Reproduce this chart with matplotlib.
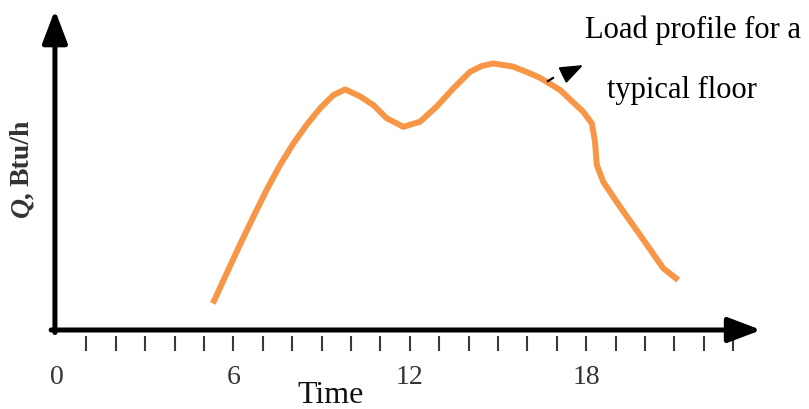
#Load profile sketch
import numpy as np
import matplotlib.pyplot as plt

# hour of day and relative load
hours = [5.30, 5.77, 6.22, 6.68, 7.13, 7.59, 8.04, 8.49, 8.95, 9.40,
         9.80, 10.31, 10.76, 11.21, 11.78, 12.35, 12.91, 13.48, 14.05,
         14.45, 14.84, 15.52, 16.09, 16.43, 17.11, 17.90, 18.19, 18.30,
         18.36, 18.58, 19.15, 19.83, 20.62, 21.13]
load = [8.3, 17.7, 26.6, 35.4, 43.8, 51.6, 58.3, 64.1, 69.3, 73.4,
        75.2, 73.0, 70.3, 66.2, 63.5, 65.1, 69.8, 75.5, 80.7,
        82.5, 83.3, 82.3, 80.2, 78.8, 75.0, 68.2, 64.6, 58.8,
        51.6, 46.3, 38.5, 29.7, 19.3, 15.6]
minor_hours = list(range(1, 24))
label_hours = [0, 6, 12, 18]
label_text = ["0", "6", "12", "18"]


def main():
    fig = plt.figure(figsize=(8.09, 4.09), dpi=100)
    ax = fig.add_axes([0, 0, 1, 1])
    ax.set_xlim(-57 / 29.4, (809 - 57) / 29.4)
    ax.set_ylim(-79 / 3.2, 330 / 3.2)
    ax.axis("off")

    serif = ["Liberation Serif", "DejaVu Serif"]

    # axes with arrow heads
    arrow = dict(arrowstyle="-|>,head_length=1.0,head_width=0.38", lw=3.6,
                 color="black", mutation_scale=20, shrinkA=0, shrinkB=0)
    ax.annotate("", xy=(-0.07, 100.0), xytext=(-0.07, -0.8), arrowprops=arrow)
    ax.annotate("", xy=(23.95, 0.0), xytext=(-0.2, 0.0), arrowprops=arrow)

    # small ticks below the time axis
    ax.vlines(minor_hours, -6.6, -1.9, color="#3a3a3a", lw=1.5)
    for h, t in zip(label_hours, label_text):
        ax.text(h, -15, t, ha="center", va="center", fontsize=20,
                family=serif, color="#333333")
    ax.text(9.32, -22.8, "Time", ha="center", va="baseline", fontsize=23,
            family=serif, color="#111111")

    # y label: Q bold italic, the rest bold
    ax.text(-1.18, (330 - 217) / 3.2, "Q,", rotation=90, rotation_mode="anchor",
            ha="left", va="center", fontsize=20, family=serif,
            fontweight="bold", fontstyle="italic", color="#333333")
    ax.text(-1.18, (330 - 186) / 3.2, "Btu/h", rotation=90, rotation_mode="anchor",
            ha="left", va="center", fontsize=20, family=serif,
            fontweight="bold", color="#333333")

    # the load curve
    ax.plot(hours, load, color="#F79646", lw=4.3, solid_joinstyle="round",
            solid_capstyle="butt")

    # annotation arrow: one short dash and a filled head
    ax.plot([16.70, 16.87], [77.8, 78.75], color="black", lw=1.6)
    ax.annotate("", xy=(17.90, 82.8), xytext=(17.21, 79.7),
                arrowprops=dict(arrowstyle="-|>,head_length=1.0,head_width=0.38",
                                lw=1.5, color="black", mutation_scale=14,
                                shrinkA=0, shrinkB=0))
    ax.text(17.96, 93.75, "Load profile for a", ha="left", va="center",
            fontsize=22, family=serif, color="black")
    ax.text(18.7, 75.0, "typical floor", ha="left", va="center",
            fontsize=22, family=serif, color="black")

    fig.savefig("out.png", dpi=100)


if __name__ == "__main__":
    main()
